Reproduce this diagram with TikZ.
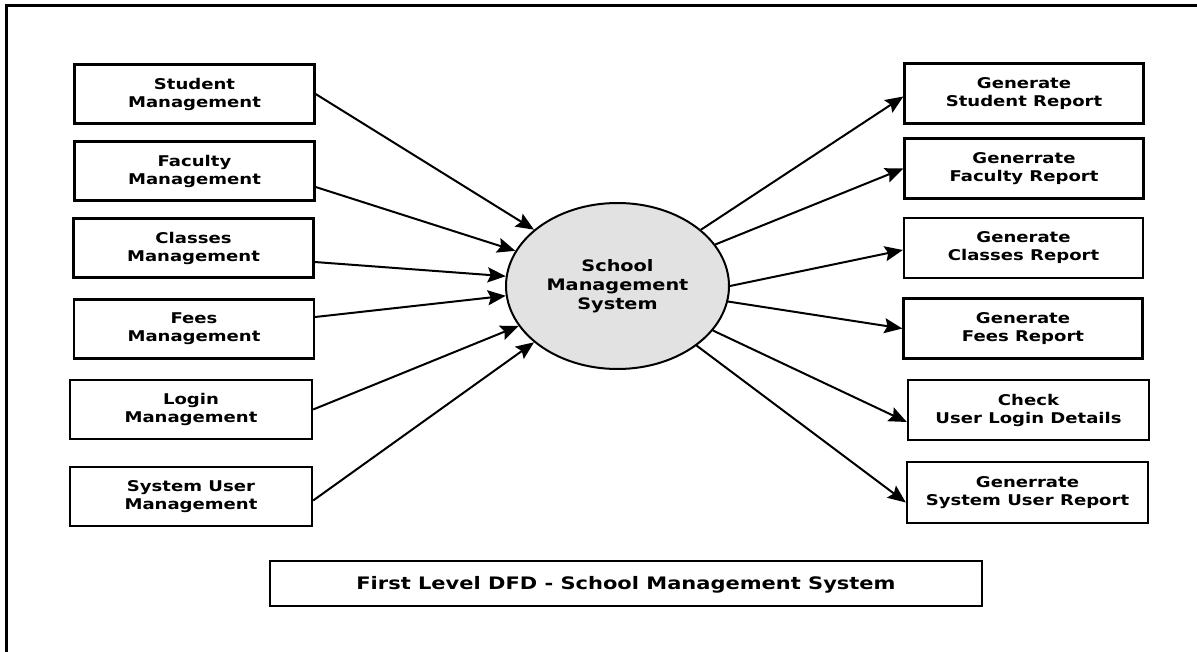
\documentclass[tikz,border=0pt]{standalone}
\usepackage{fontspec}
\newfontfamily\dfont{DejaVu Sans}[FakeStretch=1.22]
\usetikzlibrary{shapes.geometric,arrows.meta}
\begin{document}
\begin{tikzpicture}[x=1pt,y=-1pt,
  lower/.style={execute at begin node={\rule{0pt}{17pt}}},
  box/.style={draw, line width=2.3pt, align=center, inner sep=0pt, lower,
    font=\dfont\bfseries\fontsize{14.8}{18}\selectfont},
  lbox/.style={box, minimum width=240pt, minimum height=59pt},
  rbox/.style={box, minimum width=239pt, minimum height=60pt},
  arr/.style={line width=2pt, -{Stealth[length=18pt,width=15pt,inset=3pt]}}]
\useasboundingbox (0,0) rectangle (1197,652);
\draw[line width=3pt] (6,652) -- (6,6) -- (1197,6);
% left boxes
\node[lbox] (stu) at (194.5,94) {Student\\Management};
\node[lbox] (fac) at (194.5,171) {Faculty\\Management};
\node[lbox] (cls) at (193.5,248) {Classes\\Management};
\node[lbox] (fee) at (194,329) {Fees\\Management};
\node[lbox,minimum width=242pt] (log) at (191,409.5) {Login\\Management};
\node[lbox,minimum width=242pt] (sys) at (191,496.5) {System User\\Management};
% right boxes
\node[rbox] (rstu) at (1024,93.5) {Generate\\Student Report};
\node[rbox] (rfac) at (1024,168.5) {Generrate\\Faculty Report};
\node[rbox] (rcls) at (1023.5,248) {Generate\\Classes Report};
\node[rbox] (rfee) at (1023,328.5) {Generate\\Fees Report};
\node[rbox,minimum width=241pt] (rchk) at (1028.5,410) {Check\\User Login Details};
\node[rbox,minimum width=241pt,minimum height=61pt] (rsys) at (1027.5,492.5) {Generrate\\System User Report};
% centre process
\node[ellipse, draw, line width=2pt, fill={rgb,255:red,226;green,226;blue,226},
  minimum width=223pt, minimum height=166pt, inner sep=0pt, align=center, lower,
  font=\dfont\bfseries\fontsize{15.8}{19}\selectfont] (sms) at (617.5,286)
  {School\\Management\\System};
% title
\node[draw, line width=2.3pt, minimum width=712pt, minimum height=45pt, inner sep=0pt,
  font=\dfont\bfseries\fontsize{17.2}{20}\selectfont] (ttl) at (626,583.5)
  {\rule{0pt}{16pt}First Level DFD - School Management System};
% inflows
\draw[arr] (stu.east) -- (sms.146.8);
\draw[arr] ([yshift=-16pt]fac.east) -- (sms.161.6);
\draw[arr] ([yshift=-14pt]cls.east) -- (sms.175.5);
\draw[arr] ([yshift=12pt]fee.east) -- (sms.185.5);
\draw[arr] (log.east) -- (sms.202.2);
\draw[arr] ([yshift=-4pt]sys.east) -- (sms.214);
% outflows
\draw[arr] (sms.34.2) -- ([yshift=-3pt]rstu.west);
\draw[arr] (sms.23.4) -- (rfac.west);
\draw[arr] (sms.0.5) -- ([yshift=-2pt]rcls.west);
\draw[arr] (sms.-8.7) -- (rfee.west);
\draw[arr] (sms.-25.7) -- ([yshift=-12pt]rchk.west);
\draw[arr] (sms.-37.6) -- ([yshift=-10pt]rsys.west);
\end{tikzpicture}
\end{document}
